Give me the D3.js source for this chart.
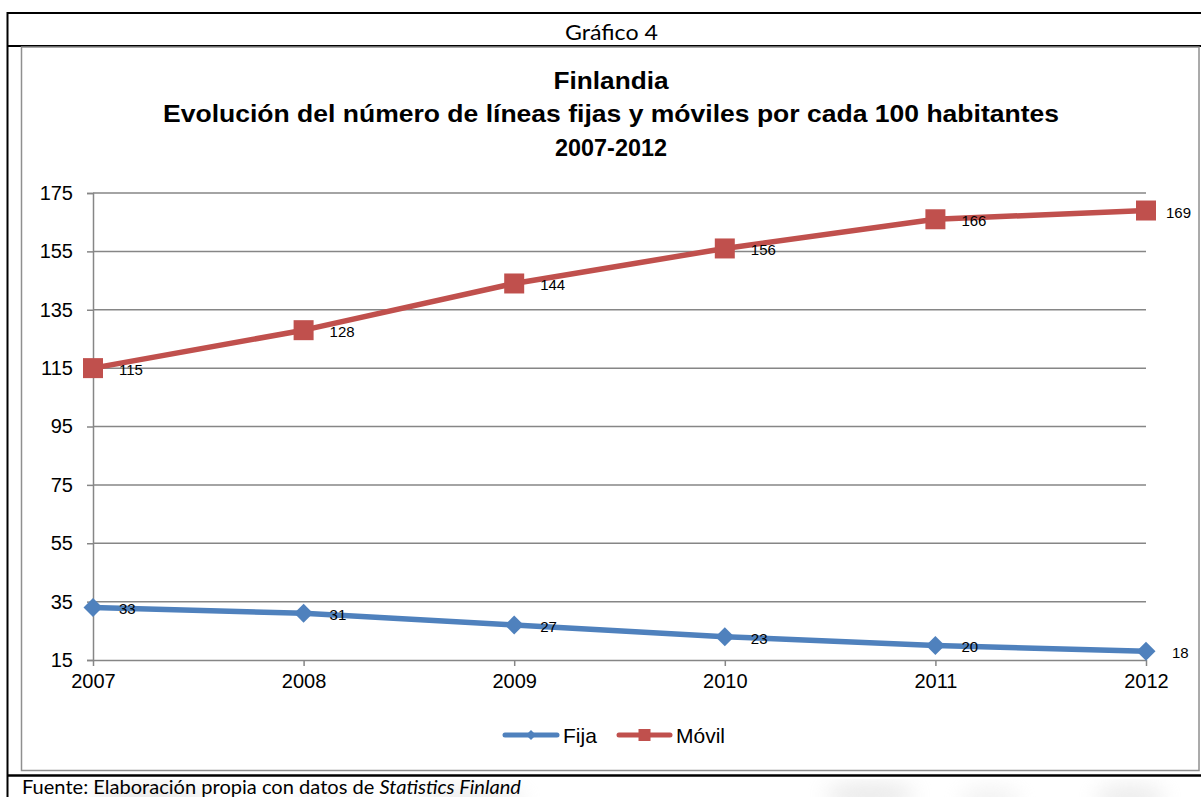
<!DOCTYPE html>
<html lang="es">
<head>
<meta charset="utf-8">
<script src="https://cdn.jsdelivr.net/npm/d3@7"></script>
<style>
  html, body { margin: 0; padding: 0; background: #fff; overflow: hidden; }
  svg { display: block; }
</style>
</head>
<body>
<svg id="chart" width="1201" height="797"></svg>
<script>
// Years on the horizontal axis
const years = ["2007", "2008", "2009", "2010", "2011", "2012"];
// Lines per 100 inhabitants
const fija = [33, 31, 27, 23, 20, 18];
const movil = [115, 128, 144, 156, 166, 169];
// Vertical axis ticks
const yTicks = [15, 35, 55, 75, 95, 115, 135, 155, 175];

const seriesNames = ["Fija", "Móvil"];
const titleLines = [
  "Finlandia",
  "Evolución del número de líneas fijas y móviles por cada 100 habitantes",
  "2007-2012"
];

const BLUE = "#4F81BD";
const RED = "#C0504D";
const GRID = "#868686";

const svg = d3.select("#chart");

// Faint watermark shading below the table
const defs = svg.append("defs");
defs.append("filter").attr("id", "soft")
  .append("feGaussianBlur").attr("stdDeviation", 10);
const haze = svg.append("g").attr("filter", "url(#soft)").attr("opacity", 0.4);
[[150, 800, 60, 16, "#d0d0d0"], [470, 800, 55, 14, "#d6d6d6"], [870, 795, 45, 12, "#c8c8c8"],
 [990, 800, 30, 12, "#dcdcdc"], [1130, 798, 35, 14, "#d2d2d2"], [330, 805, 40, 10, "#e0e0e0"]]
  .forEach(([cx, cy, rx, ry, c]) => haze.append("ellipse")
    .attr("cx", cx).attr("cy", cy).attr("rx", rx).attr("ry", ry).attr("fill", c));

// Table frame
const table = svg.append("g").attr("fill", "none").attr("stroke", "#000");
table.append("line").attr("x1", 7).attr("x2", 1205).attr("y1", 13).attr("y2", 13).attr("stroke-width", 2);
table.append("line").attr("x1", 7).attr("x2", 1205).attr("y1", 46).attr("y2", 46).attr("stroke-width", 2);
table.append("line").attr("x1", 7).attr("x2", 1205).attr("y1", 775.5).attr("y2", 775.5).attr("stroke-width", 2.5);
table.append("line").attr("x1", 7.5).attr("x2", 7.5).attr("y1", 12).attr("y2", 800).attr("stroke-width", 2);

// Header cell text
svg.append("text")
  .attr("x", 611.5).attr("y", 40)
  .attr("text-anchor", "middle")
  .attr("font-family", "Lato, 'Open Sans', sans-serif")
  .attr("font-size", 21.5)
  .attr("fill", "#000")
  .attr("textLength", 93).attr("lengthAdjust", "spacingAndGlyphs")
  .text("Gráfico 4");

// Footer source note
const src = svg.append("text")
  .attr("x", 22).attr("y", 794)
  .attr("font-family", "Lato, 'Open Sans', sans-serif")
  .attr("font-size", 20)
  .attr("fill", "#000");
src.append("tspan").text("Fuente: Elaboración propia con datos de ");
src.append("tspan").attr("font-style", "italic").text("Statistics Finland");
src.attr("textLength", 499).attr("lengthAdjust", "spacingAndGlyphs");

// Chart frame
svg.append("rect")
  .attr("x", 21.5).attr("y", 47).attr("width", 1177.5).attr("height", 723.5)
  .attr("fill", "none").attr("stroke", "#8f8f8f").attr("stroke-width", 1.5);

// Title, three centred lines
const titleBase = [89, 122, 156];
const titleWidth = [115, 896, 112];
titleLines.forEach((t, i) => svg.append("text")
  .attr("x", 611).attr("y", titleBase[i])
  .attr("text-anchor", "middle")
  .attr("font-family", "Arial, 'Liberation Sans', sans-serif")
  .attr("font-weight", "bold")
  .attr("font-size", 24)
  .attr("fill", "#000")
  .attr("textLength", titleWidth[i]).attr("lengthAdjust", "spacingAndGlyphs")
  .text(t));

// Scales
const x = d3.scalePoint().domain(years).range([93, 1146]);
const y = d3.scaleLinear().domain([15, 175]).range([660, 193]);

// Horizontal gridlines
svg.append("g")
  .selectAll("line")
  .data(yTicks.slice(1))
  .join("line")
  .attr("x1", 93).attr("x2", 1146)
  .attr("y1", d => y(d)).attr("y2", d => y(d))
  .attr("stroke", GRID).attr("stroke-width", 1.5);

// Y axis
const yAxis = svg.append("g")
  .attr("transform", "translate(93,0)")
  .call(d3.axisLeft(y).tickValues(yTicks).tickSize(6).tickPadding(14).tickFormat(d3.format("d")));
yAxis.select(".domain").attr("stroke", GRID).attr("stroke-width", 1.5);
yAxis.selectAll(".tick line").attr("stroke", GRID).attr("stroke-width", 1.5);
yAxis.selectAll(".tick text")
  .attr("font-family", "Arial, 'Liberation Sans', sans-serif")
  .attr("font-size", 20).attr("fill", "#000");

// X axis
const xAxis = svg.append("g")
  .attr("transform", "translate(0,660)")
  .call(d3.axisBottom(x).tickSize(6).tickPadding(8).tickSizeOuter(0));
xAxis.select(".domain").attr("stroke", GRID).attr("stroke-width", 1.5);
xAxis.selectAll(".tick line").attr("stroke", GRID).attr("stroke-width", 1.5);
xAxis.selectAll(".tick text")
  .attr("font-family", "Arial, 'Liberation Sans', sans-serif")
  .attr("font-size", 20).attr("fill", "#000");

// Series
const series = [
  { name: seriesNames[0], values: fija, color: BLUE, marker: d3.symbolDiamond2, msize: 19 },
  { name: seriesNames[1], values: movil, color: RED, marker: d3.symbolSquare2, msize: 20 }
];

const line = d3.line().x((d, i) => x(years[i])).y(d => y(d));

// Symbol path whose marker spans roughly `span` pixels
function symbolPath(type, span) {
  const sq = type === d3.symbolSquare2;
  const size = sq ? Math.pow(span / 0.8862, 2) : Math.pow(span / (0.6267 * 2), 2);
  return d3.symbol().type(type).size(size)();
}

// Value labels sit right of the marker, kept inside the chart frame
const labelRightLimit = 1191;

series.forEach(s => {
  const g = svg.append("g");
  g.append("path")
    .datum(s.values)
    .attr("d", line)
    .attr("fill", "none")
    .attr("stroke", s.color)
    .attr("stroke-width", 5.5)
    .attr("stroke-linejoin", "round");
  const sym = symbolPath(s.marker, s.msize);
  g.selectAll("path.m")
    .data(s.values)
    .join("path")
    .attr("class", "m")
    .attr("transform", (d, i) => `translate(${x(years[i])},${y(d)})`)
    .attr("d", sym)
    .attr("fill", s.color)
    .attr("stroke", "none");
  g.selectAll("text")
    .data(s.values)
    .join("text")
    .attr("x", (d, i) => x(years[i]) + 26)
    .attr("y", d => y(d) + 7)
    .attr("font-family", "Arial, 'Liberation Sans', sans-serif")
    .attr("font-size", 15)
    .attr("fill", "#000")
    .text(d => d)
    .each(function () {
      const w = this.getComputedTextLength();
      const x0 = +this.getAttribute("x");
      if (x0 + w > labelRightLimit) this.setAttribute("x", labelRightLimit - w);
    });
});

// Legend
const legend = svg.append("g").attr("transform", "translate(0,735)");
const legendItems = [
  { x0: 503, x1: 559, tx: 563, s: series[0], ms: 10 },
  { x0: 617, x1: 672, tx: 676, s: series[1], ms: 12 }
];
legendItems.forEach(it => {
  legend.append("line")
    .attr("x1", it.x0 + 2).attr("x2", it.x1 - 2).attr("y1", 0).attr("y2", 0)
    .attr("stroke", it.s.color).attr("stroke-width", 5).attr("stroke-linecap", "round");
  legend.append("path")
    .attr("transform", `translate(${(it.x0 + it.x1) / 2},0)`)
    .attr("d", symbolPath(it.s.marker, it.ms))
    .attr("fill", it.s.color);
  legend.append("text")
    .attr("x", it.tx).attr("y", 7.5)
    .attr("font-family", "Arial, 'Liberation Sans', sans-serif")
    .attr("font-size", 21)
    .attr("fill", "#000")
    .text(it.s.name);
});
</script>
</body>
</html>
